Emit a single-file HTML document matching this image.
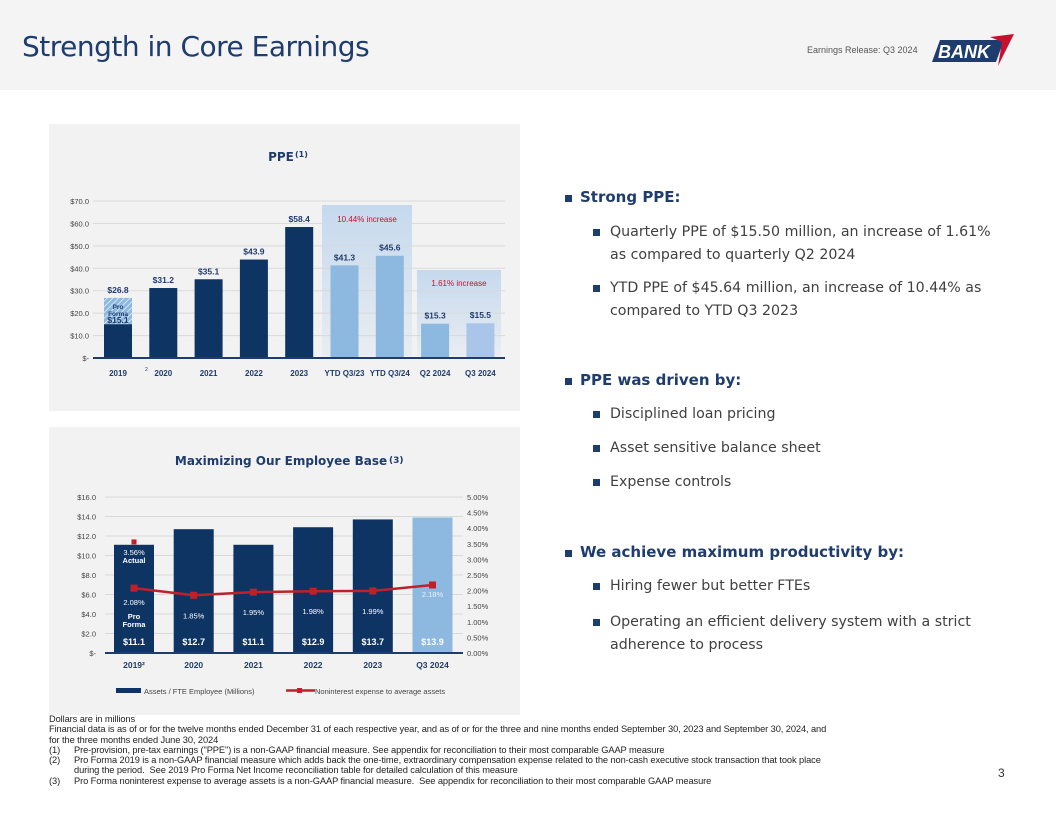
<!DOCTYPE html>
<html><head><meta charset="utf-8">
<style>
body{margin:0;width:1056px;height:816px;position:relative;background:#fff;font-family:"Liberation Sans",sans-serif;overflow:hidden}
.abs{position:absolute}
.hdr{left:0;top:0;width:1056px;height:90px;background:#f4f4f4}
.title{left:22px;top:30px;font-size:28px;color:#1f3c6e;font-family:"DejaVu Sans","Liberation Sans",sans-serif;letter-spacing:-0.5px}
.panel{background:#f2f2f2}
.rt{font-family:"DejaVu Sans","Liberation Sans",sans-serif}
.h{font-size:15px;font-weight:bold;color:#1f3c6e}
.s{font-size:14.2px;color:#404040;line-height:23px}
.sq{width:7px;height:7px;background:#1f3c6e}
.fn{left:49px;top:714px;font-size:9.3px;color:#222;line-height:10.3px;width:860px;letter-spacing:-0.1px}
</style></head><body>
<div class="abs hdr"></div>
<div class="abs title">Strength in Core Earnings</div>
<div class="abs" style="left:807px;top:45px;font-size:9px;color:#555">Earnings Release: Q3 2024</div>
<svg class="abs" style="left:932px;top:32px" width="85" height="34">
<polygon points="8,8 72,8 64,30 0,30" fill="#1f3c6e"/>
<polygon points="58,5 82,2 66,34 70,10" fill="#c8102e"/>
<text x="6" y="26" font-size="18" font-weight="bold" font-style="italic" fill="#fff" font-family="Liberation Sans">BANK</text>
</svg>

<div class="abs panel" style="left:49px;top:124px;width:471px;height:287px"></div>
<div class="abs panel" style="left:49px;top:427px;width:471px;height:288px"></div>

<svg id="c1" class="abs" style="left:49px;top:124px" width="471" height="287"></svg>
<svg id="c2" class="abs" style="left:49px;top:427px" width="471" height="288"></svg>

<div class="abs fn">Dollars are in millions<br>Financial data is as of or for the twelve months ended December 31 of each respective year, and as of or for the three and nine months ended September 30, 2023 and September 30, 2024, and<br>for the three months ended June 30, 2024<br>
<span style="display:inline-block;width:25px">(1)</span>Pre-provision, pre-tax earnings ("PPE") is a non-GAAP financial measure. See appendix for reconciliation to their most comparable GAAP measure<br>
<span style="display:inline-block;width:25px">(2)</span>Pro Forma 2019 is a non-GAAP financial measure which adds back the one-time, extraordinary compensation expense related to the non-cash executive stock transaction that took place<br>
<span style="display:inline-block;width:25px"></span>during the period.&nbsp; See 2019 Pro Forma Net Income reconciliation table for detailed calculation of this measure<br>
<span style="display:inline-block;width:25px">(3)</span>Pro Forma noninterest expense to average assets is a non-GAAP financial measure.&nbsp; See appendix for reconciliation to their most comparable GAAP measure</div>
<div class="abs" style="left:998px;top:766px;font-size:12px;color:#333">3</div>

<script>
const ppeCats=["2019","2020","2021","2022","2023","YTD Q3/23","YTD Q3/24","Q2 2024","Q3 2024"];
const ppeVals=[15.1,31.2,35.1,43.9,58.4,41.3,45.6,15.3,15.5];
const ppeProForma=26.8;
const ppeTicks=[0,10,20,30,40,50,60,70];
const empCats=["2019²","2020","2021","2022","2023","Q3 2024"];
const empVals=[11.1,12.7,11.1,12.9,13.7,13.9];
const expVals=[2.08,1.85,1.95,1.98,1.99,2.18];
const expActual2019=3.56;
const empTicks=[0,2,4,6,8,10,12,14,16];
const pctTicks=[0,0.5,1,1.5,2,2.5,3,3.5,4,4.5,5];

const NS="http://www.w3.org/2000/svg";
function mk(p,t,a,txt){const e=document.createElementNS(NS,t);for(const k in a)e.setAttribute(k,a[k]);if(txt!==undefined)e.textContent=txt;p.appendChild(e);return e;}
const navy="#0e3463",light="#8db8e0",lighter="#a9c6ea";

// chart 1
const c1=document.getElementById('c1');
const y1=v=>234-v*157/70; const x1=i=>69+i*45.3;
mk(c1,'text',{x:232,y:37,'font-size':12,'font-weight':'bold',fill:'#1f3c6e','text-anchor':'middle','font-family':'DejaVu Sans'},'PPE');
mk(c1,'text',{x:246,y:33,'font-size':8,'font-weight':'bold',fill:'#1f3c6e','font-family':'DejaVu Sans'},'(1)');
const g1=mk(c1,'defs',{});
g1.innerHTML='<linearGradient id="gb" x1="0" y1="0" x2="0" y2="1"><stop offset="0" stop-color="#c5d9ee"/><stop offset="1" stop-color="#c5d9ee" stop-opacity="0.2"/></linearGradient><pattern id="hat" width="4" height="4" patternUnits="userSpaceOnUse" patternTransform="rotate(45)"><rect width="4" height="4" fill="#8db8e0"/><line x1="0" y1="0" x2="0" y2="4" stroke="#fff" stroke-width="1.2"/></pattern>';
mk(c1,'rect',{x:273,y:81,width:90,height:151,fill:'url(#gb)'});
mk(c1,'rect',{x:368,y:146,width:84,height:86,fill:'url(#gb)'});
ppeTicks.forEach(t=>{
  if(t>0){const l=mk(c1,'line',{x1:44,x2:456,y1:y1(t),y2:y1(t),stroke:'#d9d9d9','stroke-width':1});}
  const tx=mk(c1,'text',{x:40,y:y1(t)+3,'font-size':7.5,fill:'#444','text-anchor':'end'},t?'$'+t.toFixed(1):'$-');
  
});
ppeCats.forEach((c,i)=>{
  const v=ppeVals[i],x=x1(i);
  const fill=i<5?navy:(i==8?lighter:light);
  const r=mk(c1,'rect',{x:x-14,y:y1(v),width:28,height:y1(0)-y1(v),fill:fill});
  
  if(i>0){const t=mk(c1,'text',{x:x,y:y1(v)-5,'font-size':8.5,'font-weight':'bold',fill:'#1f3c6e','text-anchor':'middle'},'$'+v.toFixed(1));}
  const cl=mk(c1,'text',{x:x,y:252,'font-size':8,'font-weight':'bold',fill:'#1f3c6e','text-anchor':'middle'},c);
  
});
{const x=x1(0);
 const r=mk(c1,'rect',{x:x-14,y:y1(ppeProForma),width:28,height:y1(ppeVals[0])-y1(ppeProForma),fill:'url(#hat)'});
 
 mk(c1,'text',{x:x,y:y1(ppeProForma)-5,'font-size':8.5,'font-weight':'bold',fill:'#1f3c6e','text-anchor':'middle'},'$'+ppeProForma.toFixed(1));
 mk(c1,'text',{x:x,y:y1(ppeProForma)+11,'font-size':6.5,'font-weight':'bold',fill:'#1f3c6e','text-anchor':'middle'},'Pro');
 mk(c1,'text',{x:x,y:y1(ppeProForma)+18,'font-size':6.5,'font-weight':'bold',fill:'#1f3c6e','text-anchor':'middle'},'Forma');
 mk(c1,'text',{x:x,y:y1(ppeVals[0])-1,'font-size':8.5,'font-weight':'bold',fill:'#1f3c6e','text-anchor':'middle'},'$'+ppeVals[0].toFixed(1));
 mk(c1,'text',{x:x+27,y:247,'font-size':5,fill:'#1f3c6e'},'2');
}
mk(c1,'line',{x1:44,x2:456,y1:y1(0),y2:y1(0),stroke:'#1f3c6e','stroke-width':2});
mk(c1,'text',{x:318,y:98,'font-size':8,fill:'#c8102e','text-anchor':'middle'},'10.44% increase');
mk(c1,'text',{x:410,y:162,'font-size':8,fill:'#c8102e','text-anchor':'middle'},'1.61% increase');

// chart 2
const c2=document.getElementById('c2');
const y2=v=>226-v*156/16; const yp=p=>226-p*156/5; const x2=i=>85+i*59.7;
mk(c2,'text',{x:232,y:38,'font-size':12,'font-weight':'bold',fill:'#1f3c6e','text-anchor':'middle','font-family':'DejaVu Sans'},'Maximizing Our Employee Base');
mk(c2,'text',{x:340,y:36,'font-size':9,'font-weight':'bold',fill:'#1f3c6e','font-family':'DejaVu Sans'},'(3)');
empTicks.forEach(t=>{
  if(t>0){const l=mk(c2,'line',{x1:56,x2:414,y1:y2(t),y2:y2(t),stroke:'#d9d9d9'});}
  const tx=mk(c2,'text',{x:47,y:y2(t)+3,'font-size':7.5,fill:'#444','text-anchor':'end'},t?'$'+t.toFixed(1):'$-');
  
});
pctTicks.forEach(t=>{const tx=mk(c2,'text',{x:418,y:yp(t)+3,'font-size':7.5,fill:'#444'},t.toFixed(2)+'%');});
empCats.forEach((c,i)=>{
  const v=empVals[i],x=x2(i);
  const r=mk(c2,'rect',{x:x-20,y:y2(v),width:40,height:y2(0)-y2(v),fill:i==5?light:navy});
  
  mk(c2,'text',{x:x,y:y2(0)-8,'font-size':9,'font-weight':'bold',fill:'#fff','text-anchor':'middle'},'$'+v.toFixed(1));
  mk(c2,'text',{x:x,y:241,'font-size':8.5,'font-weight':'bold',fill:'#1f3c6e','text-anchor':'middle'},c);
  mk(c2,'text',{x:x,y:yp(expVals[i])+(i==0?17:i==5?12:23),'font-size':7.5,fill:i==5?'#eaf2fb':'#fff','text-anchor':'middle'},expVals[i].toFixed(2)+'%');
});
mk(c2,'line',{x1:56,x2:414,y1:y2(0),y2:y2(0),stroke:'#1f3c6e','stroke-width':2});
const pts=expVals.map((v,i)=>x2(i)+','+yp(v)).join(' ');
const pl=mk(c2,'polyline',{points:pts,fill:'none',stroke:'#c0202a','stroke-width':2.5});

expVals.forEach((v,i)=>{const m=mk(c2,'rect',{x:x2(i)-3.5,y:yp(v)-3.5,width:7,height:7,fill:'#c0202a'});});
{const x=x2(0);
 mk(c2,'rect',{x:x-2.5,y:yp(expActual2019)-2.5,width:5,height:5,fill:'#c0202a'});
 mk(c2,'text',{x:x,y:yp(expActual2019)+13,'font-size':7.5,fill:'#fff','text-anchor':'middle'},expActual2019.toFixed(2)+'%');
 mk(c2,'text',{x:x,y:yp(expActual2019)+21,'font-size':7.5,'font-weight':'bold',fill:'#fff','text-anchor':'middle'},'Actual');
 mk(c2,'text',{x:x,y:y2(4)+5,'font-size':7.5,'font-weight':'bold',fill:'#fff','text-anchor':'middle'},'Pro');
 mk(c2,'text',{x:x,y:y2(4)+13,'font-size':7.5,'font-weight':'bold',fill:'#fff','text-anchor':'middle'},'Forma');
}
mk(c2,'rect',{x:67,y:261,width:25,height:5,fill:navy});
mk(c2,'text',{x:95,y:267,'font-size':7.5,fill:'#444'},'Assets / FTE Employee (Millions)');
mk(c2,'line',{x1:237,x2:266,y1:263.5,y2:263.5,stroke:'#c0202a','stroke-width':2.5});
mk(c2,'rect',{x:248,y:261,width:5,height:5,fill:'#c0202a'});
mk(c2,'text',{x:266,y:267,'font-size':7.5,fill:'#444'},'Noninterest expense to average assets');

// bullets
const items=[
 ['h',188,'Strong PPE:'],
 ['s',221,'Quarterly PPE of $15.50 million, an increase of 1.61%<br>as compared to quarterly Q2 2024'],
 ['s',277,'YTD PPE of $45.64 million, an increase of 10.44% as<br>compared to YTD Q3 2023'],
 ['h',371,'PPE was driven by:'],
 ['s',403,'Disciplined loan pricing'],
 ['s',437,'Asset sensitive balance sheet'],
 ['s',471,'Expense controls'],
 ['h',543,'We achieve maximum productivity by:'],
 ['s',575,'Hiring fewer but better FTEs'],
 ['s',611,'Operating an efficient delivery system with a strict<br>adherence to process']
];
items.forEach(([k,y,t])=>{
  const bx=k=='h'?565:593, tx=k=='h'?580:610;
  const sq=document.createElement('div');sq.className='abs sq';sq.style.left=bx+'px';sq.style.top=(y+(k=='h'?7:8))+'px';
  
  
  document.body.appendChild(sq);
  const d=document.createElement('div');d.className='abs rt '+k;d.style.left=tx+'px';d.style.top=y+'px';d.innerHTML=t;
  
  
  document.body.appendChild(d);
});
</script>
</body></html>
